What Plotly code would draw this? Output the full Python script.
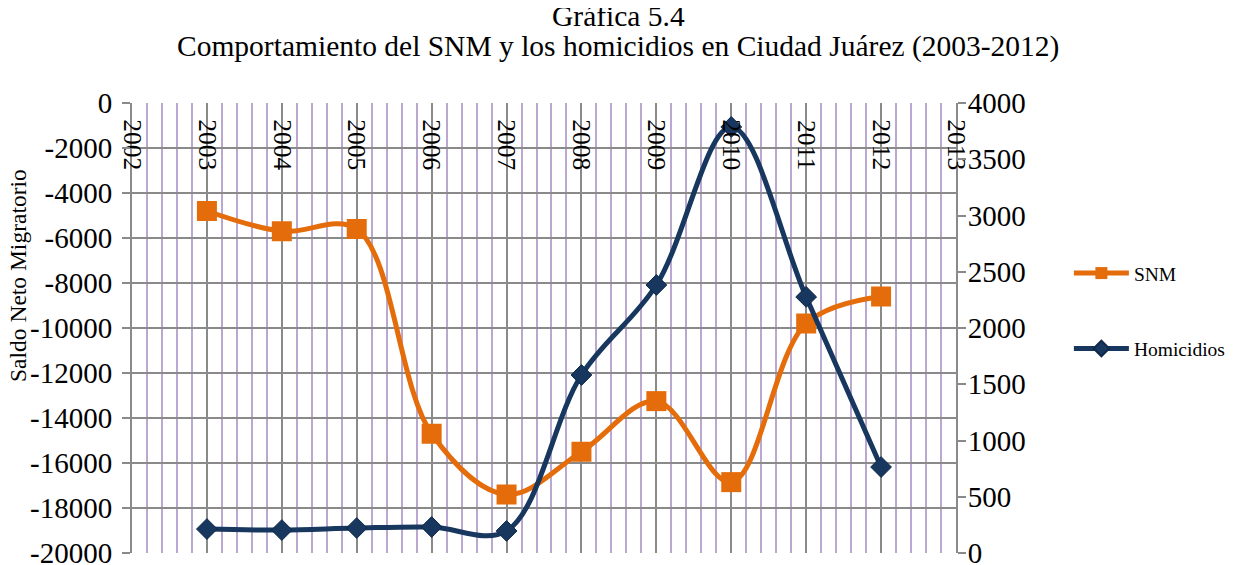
import plotly.graph_objects as go

years = [2003, 2004, 2005, 2006, 2007, 2008, 2009, 2010, 2011, 2012]
snm = [-4800, -5700, -5600, -14700, -17400, -15500, -13250, -16850, -9800, -8600]
homicidios = [213, 204, 222, 231, 196, 1582, 2382, 3787, 2276, 764]
year_ticks = list(range(2002, 2014))
snm_ticks = list(range(-20000, 1, 2000))
hom_ticks = list(range(0, 4001, 500))

FONT = "Liberation Serif"
ORANGE = "#E46C0A"
NAVY = "#17375E"
GRAY = "#8A8A8A"
PURPLE = "#BBA8D1"

fig = go.Figure()
fig.add_trace(go.Scatter(
    x=years, y=snm, name="SNM", mode="lines+markers",
    line=dict(color=ORANGE, width=5, shape="spline", smoothing=1),
    marker=dict(symbol="square", size=20, color=ORANGE),
    legendgroup="a", yaxis="y"))
fig.add_trace(go.Scatter(
    x=years, y=homicidios, name="Homicidios", mode="lines+markers",
    line=dict(color=NAVY, width=5, shape="spline", smoothing=1),
    marker=dict(symbol="diamond", size=16, color=NAVY,
                line=dict(color="#10284a", width=1)),
    legendgroup="b", yaxis="y2"))

fig.update_layout(
    width=1230, height=557,
    margin=dict(l=124, r=282, t=95, b=12, autoexpand=False),
    paper_bgcolor="white", plot_bgcolor="white",
    font=dict(family=FONT, color="black", size=20),
    xaxis=dict(range=[2002, 2013], tickvals=year_ticks, ticktext=[str(y) for y in year_ticks],
               side="top", ticklabelposition="outside", tickangle=90,
               ticklabelstandoff=-72, ticklabeloverflow="allow", automargin=False,
               tickfont=dict(family=FONT, size=25.5),
               showgrid=True, gridcolor=GRAY, gridwidth=2,
               minor=dict(dtick=0.2, showgrid=True, gridcolor=PURPLE, gridwidth=1.6),
               showline=False, zeroline=False, ticks=""),
    yaxis=dict(range=[-20000, 0], tickvals=snm_ticks, ticktext=[str(v) for v in snm_ticks],
               showgrid=True, gridcolor=GRAY, gridwidth=2,
               showline=True, linecolor=GRAY, linewidth=2, ticks="outside",
               tickcolor=GRAY, ticklen=8, tickwidth=2, zeroline=False,
               automargin=False, ticklabeloverflow="allow", ticklabelstandoff=4,
               tickfont=dict(family=FONT, size=29)),
    yaxis2=dict(range=[0, 4000], tickvals=hom_ticks, ticktext=[str(v) for v in hom_ticks],
                overlaying="y", side="right", showgrid=False,
                showline=True, linecolor=GRAY, linewidth=2, ticks="outside",
                tickcolor=GRAY, ticklen=8, tickwidth=2, zeroline=False,
                automargin=False, ticklabeloverflow="allow", ticklabelstandoff=-4,
                tickfont=dict(family=FONT, size=29)),
    legend=dict(x=1.137, y=0.538, xanchor="left", yanchor="middle",
                traceorder="grouped", tracegroupgap=47, itemwidth=55,
                itemsizing="constant",
                font=dict(family=FONT, size=19.5), bgcolor="rgba(0,0,0,0)"),
    annotations=[
        dict(text="Gráfica 5.4", xref="paper", yref="paper", x=0.59, y=1,
             xanchor="center", yanchor="middle", yshift=87, showarrow=False,
             font=dict(family=FONT, size=29.5)),
        dict(text="Comportamiento del SNM y los homicidios en Ciudad Juárez (2003-2012)",
             xref="paper", yref="paper", x=0.59, y=1,
             xanchor="center", yanchor="middle", yshift=57, showarrow=False,
             font=dict(family=FONT, size=29.5)),
        dict(text="Saldo Neto Migratorio", xref="paper", yref="paper",
             x=0, y=0.6156, xanchor="center", yanchor="middle", xshift=-114,
             textangle=-90, showarrow=False, font=dict(family=FONT, size=23.5)),
    ],
)

fig.write_html("out.html")
